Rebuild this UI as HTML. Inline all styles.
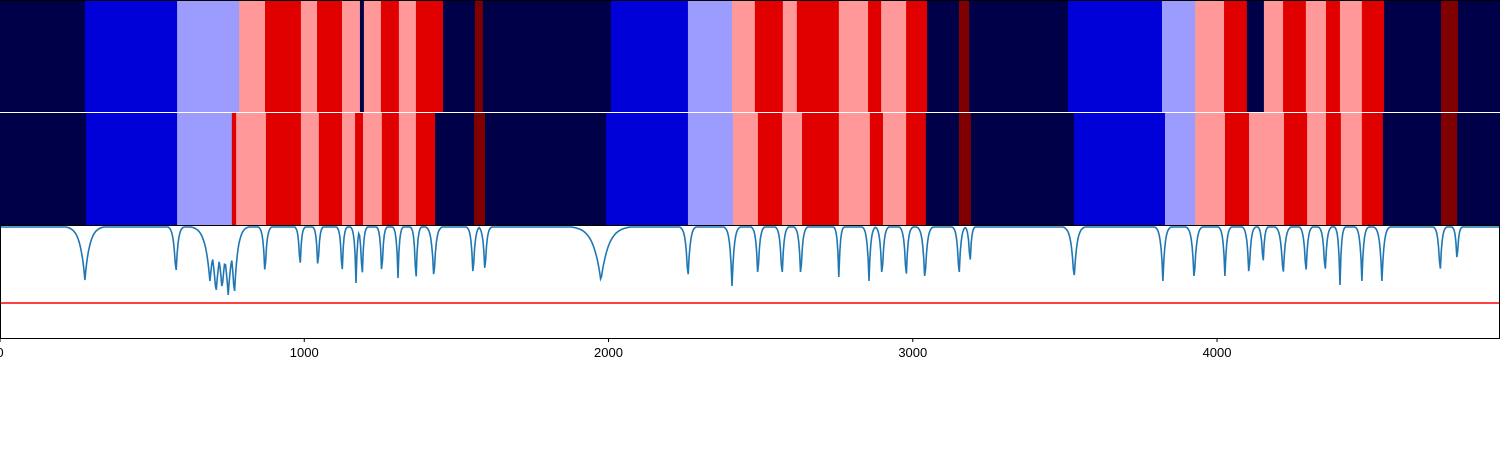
<!DOCTYPE html>
<html><head><meta charset="utf-8"><style>
html,body{margin:0;padding:0;background:#fff;}
svg{display:block;font-family:"Liberation Sans","DejaVu Sans",sans-serif;}
</style></head><body>
<svg id="chart" width="1500" height="450" viewBox="0 0 1500 450" xmlns="http://www.w3.org/2000/svg"></svg>
<script>
// ---- data ----
const row1Bounds = [0,279,582,786,871,989,1042,1124,1183,1196,1252,1311,1367,1456,1561,1587,2008,2261,2406,2481,2573,2619,2757,2853,2896,2978,3047,3152,3185,3510,3819,3928,4023,4098,4154,4217,4292,4358,4404,4476,4549,4736,4792,4930];
const row1Classes = [0,1,2,3,4,3,4,3,0,3,4,3,4,0,5,0,1,2,3,4,3,4,3,4,3,4,0,5,0,1,2,3,4,0,3,4,3,4,3,4,0,5,0];
const row2Bounds = [0,283,582,762,776,874,989,1048,1124,1167,1193,1255,1311,1367,1430,1558,1594,1992,2261,2409,2491,2570,2636,2757,2859,2902,2978,3043,3152,3191,3530,3829,3928,4026,4105,4220,4296,4358,4407,4476,4545,4736,4789,4930];
const row2Classes = [0,1,2,4,3,4,3,4,3,4,3,4,3,4,0,5,0,1,2,3,4,3,4,3,4,3,4,0,5,0,1,2,3,4,3,4,3,4,3,4,0,5,0];
const dipX = [279,578,690,710,730,750,770,871,986,1045,1124,1170,1190,1255,1308,1367,1426,1555,1594,1975,2261,2406,2491,2570,2632,2757,2856,2899,2978,3040,3152,3188,3530,3822,3925,4026,4105,4151,4217,4292,4355,4404,4476,4542,4733,4789];
const dipV = [0.46,0.49,0.45,0.32,0.36,0.31,0.29,0.48,0.54,0.53,0.46,0.43,0.42,0.46,0.48,0.37,0.44,0.46,0.50,0.45,0.44,0.40,0.45,0.45,0.45,0.49,0.45,0.45,0.43,0.42,0.45,0.58,0.45,0.45,0.42,0.50,0.46,0.57,0.47,0.48,0.49,0.41,0.45,0.45,0.49,0.61];
const dipW = [14,6,14,14,14,14,10,5,4,4,4,4,4,4,4,4,6,5,5,22,6,6,5,5,5,4,5,5,5,6,5,4,8,6,6,5,5,4,6,5,5,4,5,6,5,4];
const threshold = 0.23;
const xTicks = [0,1000,2000,3000,4000];

// ---- scales ----
const X0 = 0, X1 = 1500, XMAX = 4930;
const xs = v => X0 + (v / XMAX) * (X1 - X0);
const ys = v => 226 + (1 - v) * 100;
const colors = ["#000048","#0000d8","#9c9cff","#ff9999","#e00000","#800000"];
const svg = document.getElementById('chart');
const NS = "http://www.w3.org/2000/svg";
function mk(tag, attrs){const e=document.createElementNS(NS,tag);for(const k in attrs)e.setAttribute(k,attrs[k]);svg.appendChild(e);return e;}

function drawRow(bounds, classes, y0, h, nm){
  for(let i=0;i<classes.length;i++){
    const x=xs(bounds[i]), w=xs(bounds[i+1])-x;
    const r=mk('rect',{x:x,y:y0,width:w+0.4,height:h,fill:colors[classes[i]]});
    
    
  }
}
drawRow(row1Bounds,row1Classes,0,112,'row1');
drawRow(row2Bounds,row2Classes,113,112,'row2');
const sep=mk('rect',{x:0,y:112,width:1500,height:1,fill:'#fff'});


const topB=mk('line',{x1:0,y1:0.5,x2:1500,y2:0.5,stroke:'#000','stroke-width':1});



// line series
let pts=[];
for(let t=0;t<=XMAX;t+=3){
  let v=1;
  for(let i=0;i<dipX.length;i++){
    const d=Math.abs(t-dipX[i])/dipW[i];
    const drop=(1-dipV[i])*Math.exp(-d*0.9);
    v=Math.min(v,1-drop);
  }
  if(v>0.99)v=0.99;
  pts.push(xs(t).toFixed(1)+','+ys(v).toFixed(1));
}
const ln=mk('polyline',{points:pts.join(' '),fill:'none',stroke:'#1f77b4','stroke-width':1.6});


const th=mk('line',{x1:0,y1:ys(threshold),x2:1500,y2:ys(threshold),stroke:'#ff0000','stroke-width':1.5});



// frame of line plot
const frame=mk('path',{d:'M0.5,225.5 L0.5,338.5 L1500,338.5 M1499.5,225.5 L1499.5,338.5 M0,225.5 L1500,225.5',fill:'none',stroke:'#000','stroke-width':1});



xTicks.forEach(t=>{
  const x=xs(t);
  const tk=mk('line',{x1:x,y1:338,x2:x,y2:342,stroke:'#000','stroke-width':1});
  
  
  const lb=mk('text',{x:x,y:357,'font-size':13,'text-anchor':'middle',fill:'#000'});
  lb.textContent=t;
  
  
});
</script>
</body></html>
